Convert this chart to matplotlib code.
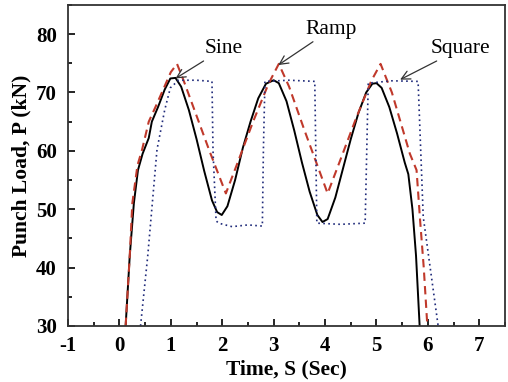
import matplotlib
matplotlib.use('Agg')
import matplotlib.pyplot as plt
from matplotlib.ticker import MultipleLocator

plt.rcParams['font.family'] = ['Liberation Serif', 'DejaVu Serif']
plt.rcParams['axes.unicode_minus'] = False

# Sine loading (solid black)
sine_t = [0.12, 0.2, 0.28, 0.36, 0.45, 0.57, 0.63, 0.75, 0.88, 0.99, 1.09, 1.2, 1.35, 1.5,
          1.65, 1.8, 1.9, 1.99, 2.1, 2.25, 2.4, 2.55, 2.7, 2.85, 3.0, 3.1, 3.25, 3.4, 3.55,
          3.7, 3.85, 3.95, 4.05, 4.2, 4.35, 4.5, 4.65, 4.8, 4.92, 5.0, 5.1, 5.25, 5.4, 5.55,
          5.62, 5.7, 5.77, 5.84]
sine_p = [30, 42, 51, 56.7, 59.5, 62.2, 65, 67.5, 70.5, 72.4, 72.5, 71, 67, 62,
          56.5, 51.5, 49.5, 49, 50.5, 55, 60.5, 65, 69, 71.5, 72.1, 71.6, 68.5, 63.5, 58,
          53, 49, 47.8, 48.3, 52, 57, 62, 66.5, 70, 71.5, 71.6, 70.8, 67.5, 63, 58,
          56, 50, 42, 30]

# Ramp loading (red dashed)
ramp_t = [0.12, 0.2, 0.25, 0.35, 0.44, 0.57, 0.7, 0.85, 1.0, 1.12, 1.25, 1.5, 1.75, 2.07,
          2.3, 2.6, 2.9, 3.1, 3.3, 3.6, 4.05, 4.3, 4.6, 4.9, 5.08, 5.3, 5.5, 5.65, 5.78,
          5.85, 5.92, 5.99]
ramp_p = [30, 42, 51, 57.5, 60.2, 65, 67.5, 70.5, 73.5, 74.9, 72, 66, 60, 52.7,
          58, 65, 71.5, 74.9, 71, 63.5, 52.7, 58.5, 65.5, 72, 74.9, 70, 64, 59.5, 56.7,
          48, 40, 30]

# Square loading (blue dotted)
square_t = [0.41, 0.55, 0.73, 0.88, 0.99, 1.15, 1.5, 1.8, 1.82, 1.88, 1.93, 2.19, 2.5, 2.78,
            2.8, 2.83, 3.3, 3.8, 3.84, 4.3, 4.78, 4.84, 5.3, 5.81, 5.91, 6.2]
square_p = [30, 42, 60.2, 67, 70.8, 72.1, 72.1, 71.9, 60, 48, 47.6, 47, 47.3, 47.1,
            60, 71.9, 72.1, 71.9, 47.6, 47.4, 47.6, 71.6, 72, 71.9, 48.7, 30]

fig = plt.figure(figsize=(5.08, 3.82), dpi=100)
ax = fig.add_axes([0.134, 0.147, 0.86, 0.84])

ax.plot(sine_t, sine_p, color='black', lw=1.4)
ax.plot(ramp_t, ramp_p, color='#c0392b', lw=1.5, ls=(0, (4, 2.5)))
ax.plot(square_t, square_p, color='#1f2a7a', lw=1.2, ls=(0, (1, 2)))

arrow = dict(arrowstyle='->', color='#333333', lw=0.9, shrinkA=0, shrinkB=0)
ax.annotate('Sine', xy=(1.09, 72.4), xytext=(2.02, 77.5), fontsize=15.5,
            ha='center', va='center', arrowprops=arrow)
ax.annotate('Ramp', xy=(3.09, 74.7), xytext=(4.12, 80.8), fontsize=15.5,
            ha='center', va='center', arrowprops=arrow)
ax.annotate('Square', xy=(5.46, 72.2), xytext=(6.64, 77.5), fontsize=15.5,
            ha='center', va='center', arrowprops=arrow)

ax.set_xlim(-1, 7.5)
ax.set_ylim(30, 85)
ax.xaxis.set_major_locator(MultipleLocator(1))
ax.xaxis.set_minor_locator(MultipleLocator(0.5))
ax.yaxis.set_major_locator(MultipleLocator(10))
ax.yaxis.set_minor_locator(MultipleLocator(5))
ax.tick_params(which='both', direction='in', top=False, right=False, width=1.2)
ax.tick_params(which='major', length=5, labelsize=15)
ax.tick_params(axis='x', which='major', pad=7)
ax.tick_params(axis='y', which='major', pad=8)
ax.tick_params(which='minor', length=3)
for lab in ax.get_xticklabels() + ax.get_yticklabels():
    lab.set_fontweight('bold')
for s in ax.spines.values():
    s.set_linewidth(1.3)
    s.set_color('#333333')

ax.set_xlabel('Time, S (Sec)', fontsize=15.5, fontweight='bold', labelpad=3)
ax.set_ylabel('Punch Load, P (kN)', fontsize=15.5, fontweight='bold', labelpad=3)

fig.savefig('out.png', dpi=100)
